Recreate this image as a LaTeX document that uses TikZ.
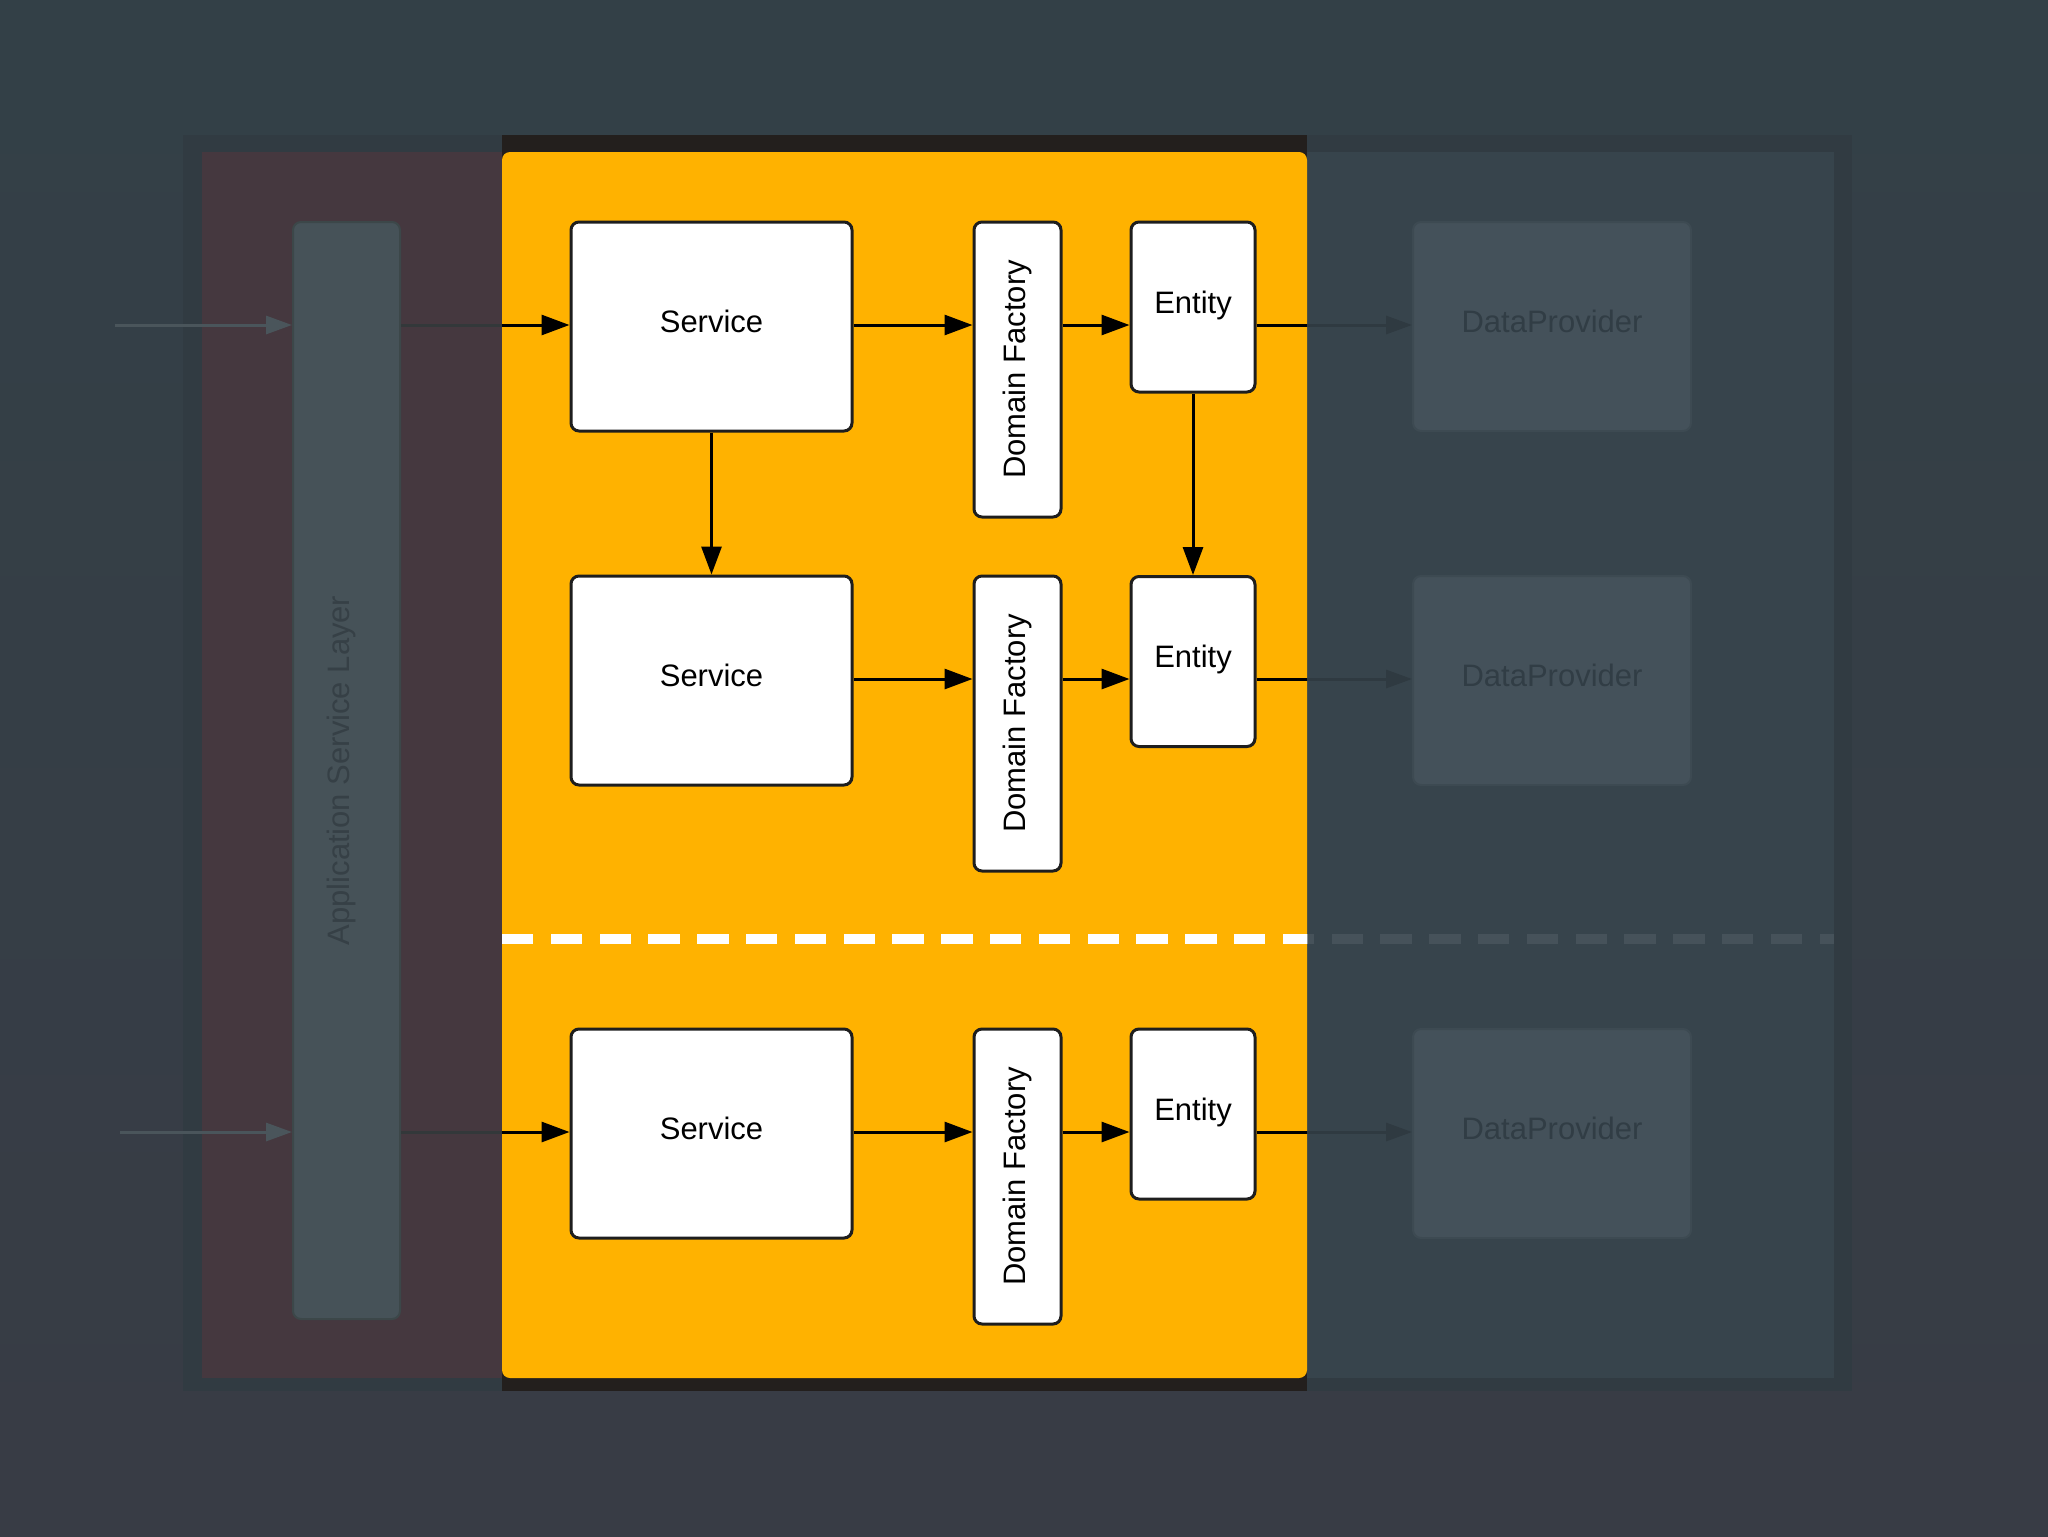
\documentclass[tikz,border=0pt]{standalone}
\usepackage{fontspec}
\setmainfont{Liberation Sans}
\usepackage{graphicx}
\usetikzlibrary{arrows.meta}
\definecolor{bgtop}{HTML}{334047}
\definecolor{bgbot}{HTML}{383C45}
\definecolor{framec}{HTML}{313B42}
\definecolor{maroonc}{HTML}{45383F}
\definecolor{rightreg}{HTML}{37444C}
\definecolor{goldc}{HTML}{FFB200}
\definecolor{barc}{HTML}{231F1D}
\definecolor{appfill}{HTML}{465258}
\definecolor{appedge}{HTML}{3C4749}
\definecolor{apptext}{HTML}{364046}
\definecolor{dpfill}{HTML}{44515A}
\definecolor{dpedge}{HTML}{3D4A52}
\definecolor{dptext}{HTML}{313D45}
\definecolor{inarrow}{HTML}{4A555B}
\definecolor{dimblack}{HTML}{33383A}
\definecolor{dimright}{HTML}{2F3A41}
\definecolor{dashgray}{HTML}{46525A}
\definecolor{boxedge}{HTML}{1E1E1E}
\tikzset{
  region/.style={rectangle, inner sep=0pt, draw=none},
  lbl/.style={font=\fontsize{15.5}{18}\selectfont},
  lifted/.style={text height=11pt, text depth=4.8pt},
  whitebox/.style={rectangle, rounded corners=4pt, draw=boxedge, line width=1.5pt, fill=white, inner sep=0pt, lbl},
  svc/.style={whitebox, lifted, minimum width=140.5pt, minimum height=104.5pt},
  fac/.style={whitebox, minimum width=43.5pt, minimum height=147.5pt},
  ent/.style={whitebox, lifted, minimum width=62pt, minimum height=85pt},
  dpbox/.style={rectangle, rounded corners=4pt, draw=dpedge, line width=1pt, fill=dpfill, text=dptext, inner sep=0pt, minimum width=139pt, minimum height=104.5pt, lbl, lifted},
  appbox/.style={rectangle, rounded corners=4pt, draw=appedge, line width=1pt, fill=appfill, text=apptext, inner sep=0pt, minimum width=53.5pt, minimum height=548.5pt, lbl},
  arr/.style={draw=black, line width=1.5pt, -{Triangle[length=14pt,width=10pt]}},
  plainline/.style={draw=black, line width=1.5pt},
  dimline/.style={draw=dimblack, line width=1.5pt},
  dimarr/.style={draw=dimright, line width=1.5pt, -{Triangle[length=13pt,width=9pt]}},
  inarr/.style={draw=inarrow, line width=1.5pt, -{Triangle[length=13pt,width=9pt]}},
  sepline/.style={line width=5pt, dash pattern=on 15.7pt off 8.7pt}
}
\begin{document}
\begin{tikzpicture}[x=0.5pt, y=-0.5pt]
\useasboundingbox (0,0) rectangle (2048,1536);
% background
\shade[top color=bgtop, bottom color=bgbot] (0,0) rectangle (2048,1536);
\fill[framec] (183,135) rectangle (1852,1391);
% regions
\node[region, fill=maroonc, minimum width=150pt, minimum height=613pt] (ml) at (352,765) {};
\node[region, fill=rightreg, minimum width=263.5pt, minimum height=613pt] (rr) at (1570.5,765) {};
\node[region, fill=barc, minimum width=402.5pt, minimum height=628pt] (yb) at (904.5,763) {};
\node[region, fill=goldc, rounded corners=4pt, minimum width=402.5pt, minimum height=613pt] (yl) at (904.5,765) {};
% dashed separator
\coordinate (sepL) at (502,939);
\coordinate (sepR) at (1834,939);
\draw[sepline, draw=dashgray] (sepL) -- (sepR);
\begin{scope}
\clip (yl.north west) rectangle (yl.south east);
\draw[sepline, draw=white] (sepL) -- (sepR);
\end{scope}
% application service layer
\node[appbox] (app) at (346.5,770.5) {\rotatebox{90}{\raisebox{2.5pt}[\height][\depth]{Application Service Layer}}};
% services
\node[svc] (s1) at (711.5,326.5) {Service};
\node[svc] (s2) at (711.5,680.5) {Service};
\node[svc] (s3) at (711.5,1133.5) {Service};
% factories
\node[fac] (f1) at (1017.5,369.5) {\rotatebox{90}{Domain Factory}};
\node[fac] (f2) at (1017.5,723.5) {\rotatebox{90}{Domain Factory}};
\node[fac] (f3) at (1017.5,1176.5) {\rotatebox{90}{Domain Factory}};
% entities
\node[ent] (e1) at (1193,307) {Entity};
\node[ent] (e2) at (1193,661.5) {Entity};
\node[ent] (e3) at (1193,1114) {Entity};
% data providers
\node[dpbox] (d1) at (1552,326.5) {DataProvider};
\node[dpbox] (d2) at (1552,680.5) {DataProvider};
\node[dpbox] (d3) at (1552,1133.5) {DataProvider};
% row coordinates
\coordinate (r1) at (0,325);
\coordinate (r2) at (0,679);
\coordinate (r3) at (0,1132);
\coordinate (in1) at (115,325);
\coordinate (in3) at (120,1132);
% row 1
\draw[inarr] (in1) -- (app.west |- in1);
\draw[dimline] (app.east |- r1) -- (yl.west |- r1);
\draw[arr] (yl.west |- r1) -- (s1.west |- r1);
\draw[arr] (s1.east |- r1) -- (f1.west |- r1);
\draw[arr] (f1.east |- r1) -- (e1.west |- r1);
\draw[plainline] (e1.east |- r1) -- (yl.east |- r1);
\draw[dimarr] (yl.east |- r1) -- (d1.west |- r1);
% verticals
\draw[arr] (s1.south) -- (s2.north);
\draw[arr] (e1.south) -- (e2.north);
% row 2
\draw[arr] (s2.east |- r2) -- (f2.west |- r2);
\draw[arr] (f2.east |- r2) -- (e2.west |- r2);
\draw[plainline] (e2.east |- r2) -- (yl.east |- r2);
\draw[dimarr] (yl.east |- r2) -- (d2.west |- r2);
% row 3
\draw[inarr] (in3) -- (app.west |- in3);
\draw[dimline] (app.east |- r3) -- (yl.west |- r3);
\draw[arr] (yl.west |- r3) -- (s3.west |- r3);
\draw[arr] (s3.east |- r3) -- (f3.west |- r3);
\draw[arr] (f3.east |- r3) -- (e3.west |- r3);
\draw[plainline] (e3.east |- r3) -- (yl.east |- r3);
\draw[dimarr] (yl.east |- r3) -- (d3.west |- r3);
\end{tikzpicture}
\end{document}
